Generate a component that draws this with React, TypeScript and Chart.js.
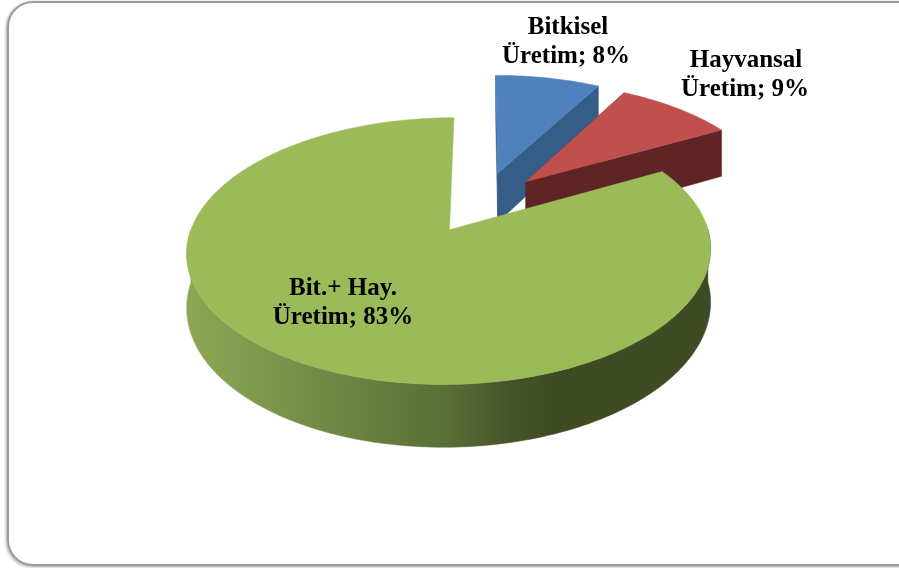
import React, { useEffect, useRef } from "react";
import { Chart, registerables } from "chart.js";

Chart.register(...registerables);

const categories = ["Bitkisel Üretim", "Hayvansal Üretim", "Bit.+ Hay. Üretim"];
const shares = [8, 9, 83];
const labelLines = [
  ["Bitkisel", "Üretim; 8%"],
  ["Hayvansal", "Üretim; 9%"],
  ["Bit.+ Hay.", "Üretim; 83%"],
];
const topColors = ["#4f81bd", "#c0504d", "#9bbb59"];
const sideColors = ["#365c88", "#5e2426", "#5f7539"];
const explode = [66, 64, 62];

const LABEL_POS = [
  [568, 28, 566, 57],
  [746, 61, 745, 90],
  [343, 289, 343, 318],
];

// perspective of the tilted pie
const CX = 482, CY = 203, AX = 250, BY = 121.5, K = 0.155, DEPTH = 51;

function project(X: number, Y: number, z: number) {
  const w = 1 / (1 + K * Y);
  return { x: CX + X * AX * w, y: CY - Y * BY * w + z * DEPTH * w };
}

function poly(ctx: CanvasRenderingContext2D, pts: { x: number; y: number }[], fill: any) {
  ctx.beginPath();
  pts.forEach((p, i) => (i ? ctx.lineTo(p.x, p.y) : ctx.moveTo(p.x, p.y)));
  ctx.closePath();
  ctx.fillStyle = fill;
  ctx.strokeStyle = fill;
  ctx.lineWidth = 0.5;
  ctx.fill();
  ctx.stroke();
}

const pie3d = {
  id: "pie3d",
  beforeDatasetDraw(chart: any) {
    const ctx: CanvasRenderingContext2D = chart.ctx;
    const meta = chart.getDatasetMeta(0);
    meta.data.forEach((el: any, i: number) => {
      const { startAngle, endAngle, outerRadius } = el.getProps(["startAngle", "endAngle", "outerRadius"], true);
      const e = el.options.offset / outerRadius;
      const mid = (startAngle + endAngle) / 2;
      const ox = e * Math.cos(mid), oy = -e * Math.sin(mid);
      const rim: { X: number; Y: number; front: boolean }[] = [];
      const steps = Math.max(12, Math.ceil((endAngle - startAngle) * 40));
      for (let s = 0; s <= steps; s++) {
        const t = startAngle + ((endAngle - startAngle) * s) / steps;
        rim.push({ X: ox + Math.cos(t), Y: oy - Math.sin(t), front: Math.sin(t) > -0.02 });
      }
      const top = rim.map((p) => project(p.X, p.Y, 0));
      const bottom = rim.map((p) => project(p.X, p.Y, 1));
      const a0 = project(ox, oy, 0), a1 = project(ox, oy, 1);
      let side: any = sideColors[i];
      if (i === 2) {
        const g = ctx.createLinearGradient(185, 0, 711, 0);
        g.addColorStop(0, "#8ca853");
        g.addColorStop(0.25, "#728c47");
        g.addColorStop(0.5, "#596d36");
        g.addColorStop(0.62, "#465428");
        g.addColorStop(0.7, "#3f4b23");
        g.addColorStop(1, "#3f4b24");
        side = g;
      } else {
        poly(ctx, [a0, top[0], bottom[0], a1], side);
        poly(ctx, [a0, top[steps], bottom[steps], a1], side);
      }
      const keep = rim.map((_, s) => s).filter((s) => rim[s].front);
      if (keep.length > 1) {
        const wall = [...keep.map((s) => top[s]), ...keep.slice().reverse().map((s) => bottom[s])];
        poly(ctx, wall, side);
      }
      poly(ctx, [a0, ...top], el.options.backgroundColor);
    });
    return false;
  },
  afterDatasetsDraw(chart: any) {
    const ctx: CanvasRenderingContext2D = chart.ctx;
    ctx.save();
    ctx.font = "bold 25px 'Liberation Serif'";
    ctx.fillStyle = "#000";
    ctx.textAlign = "center";
    ctx.textBaseline = "middle";
    labelLines.forEach((lines, i) => {
      ctx.fillText(lines[0], LABEL_POS[i][0], LABEL_POS[i][1]);
      ctx.fillText(lines[1], LABEL_POS[i][2], LABEL_POS[i][3]);
    });
    ctx.restore();
  },
};

export default function App() {
  const ref = useRef<HTMLCanvasElement>(null);
  useEffect(() => {
    document.body.style.margin = "0";
    document.body.style.background = "#fff";
    const chart = new Chart(ref.current!, {
      type: "pie",
      data: {
        labels: categories,
        datasets: [{ data: shares, backgroundColor: topColors, borderWidth: 0, offset: explode }],
      },
      options: {
        responsive: false,
        animation: false,
        devicePixelRatio: 1,
        layout: { padding: 0 },
        plugins: { legend: { display: false }, tooltip: { enabled: false }, title: { display: false } },
      },
      plugins: [pie3d],
    } as any);
    return () => chart.destroy();
  }, []);
  return (
    <div style={{ position: "relative", width: 899, height: 568, overflow: "hidden", background: "#fff" }}>
      <div
        style={{
          position: "absolute",
          left: 7,
          top: 1,
          width: 930,
          height: 565,
          boxSizing: "border-box",
          border: "2px solid #9a9a9a",
          borderRadius: 26,
          boxShadow: "-1px 1px 3px rgba(0,0,0,0.35)",
        }}
      />
      <canvas ref={ref} width={899} height={568} style={{ position: "absolute", left: 0, top: 0, display: "block" }} />
    </div>
  );
}
